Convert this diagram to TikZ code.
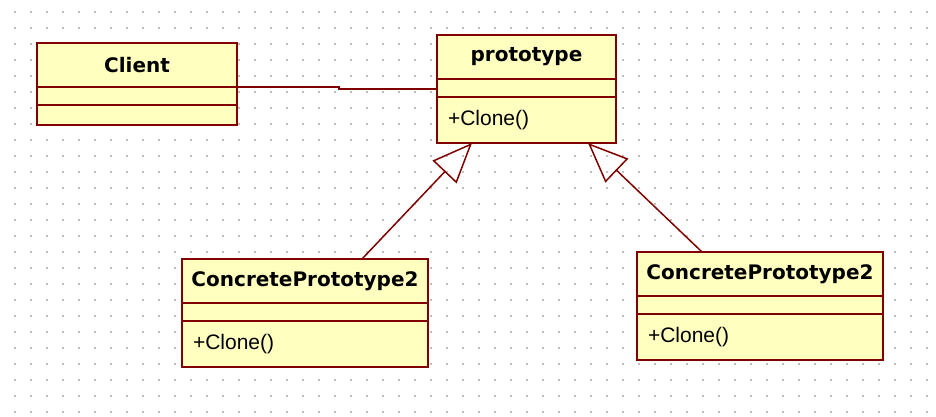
\documentclass[tikz,border=0pt]{standalone}
\usepackage{fontspec}
\setmainfont{Liberation Sans}
\newfontfamily\classfont{DejaVu Sans}
\usetikzlibrary{positioning, arrows.meta}
\definecolor{umlred}{RGB}{128,0,0}
\definecolor{umlfill}{RGB}{255,255,192}
\definecolor{griddot}{RGB}{192,192,192}

\begin{document}
\begin{tikzpicture}[x=1pt, y=-1pt,
        part/.style={rectangle, draw=umlred, fill=umlfill, line width=2pt, outer sep=0pt, inner sep=0pt},
        classname/.style={part, minimum height=44pt, font={\classfont\bfseries\fontsize{20}{24}\selectfont}},
        attrs/.style={part, minimum height=18pt},
        ops/.style={part, minimum height=46pt, inner xsep=11pt, text width=#1, align=left, font={\fontsize{21}{25}\selectfont}},
        inherit/.style={draw=umlred, line width=1.5pt, -{Triangle[open, length=40pt, width=33pt]}},
        assoc/.style={draw=umlred, line width=2pt}]
    \fill[white] (0,0) rectangle (936,417);
    \useasboundingbox (0,0) rectangle (936,417);
    % dotted grid
    \foreach \x in {14,30,...,926} {
        \foreach \y in {11,27,...,411} {
            \fill[griddot] (\x,\y) rectangle ++(2,2);
        }
    }
    % classes
    \node[classname, minimum width=200pt] (clientname) at (137,65) {Client};
    \node[attrs, minimum width=200pt, below=0pt of clientname] (clientattr) {};
    \node[attrs, minimum width=200pt, minimum height=20pt, below=0pt of clientattr] (clientops) {};

    \node[classname, minimum width=179pt] (protoname) at (526.5,57) {prototype};
    \node[attrs, minimum width=179pt, below=0pt of protoname] (protoattr) {};
    \node[ops=157pt, below=0pt of protoattr] (protoops) {+Clone()};

    \node[classname, minimum width=246pt] (cpaname) at (305,281) {ConcretePrototype2};
    \node[attrs, minimum width=246pt, below=0pt of cpaname] (cpaattr) {};
    \node[ops=224pt, below=0pt of cpaattr] (cpaops) {+Clone()};

    \node[classname, minimum width=246pt] (cpbname) at (760,274) {ConcretePrototype2};
    \node[attrs, minimum width=246pt, below=0pt of cpbname] (cpbattr) {};
    \node[ops=224pt, below=0pt of cpbattr] (cpbops) {+Clone()};

    % relations
    \draw[assoc] (clientname.south east) -- ++(102,0) |- ([yshift=-1pt]protoattr.west);
    \draw[inherit] ([xshift=57pt]cpaname.north) -- ([xshift=-54.5pt]protoops.south);
    \draw[inherit] ([xshift=-58pt]cpbname.north) -- ([xshift=61.5pt]protoops.south);
\end{tikzpicture}
\end{document}
